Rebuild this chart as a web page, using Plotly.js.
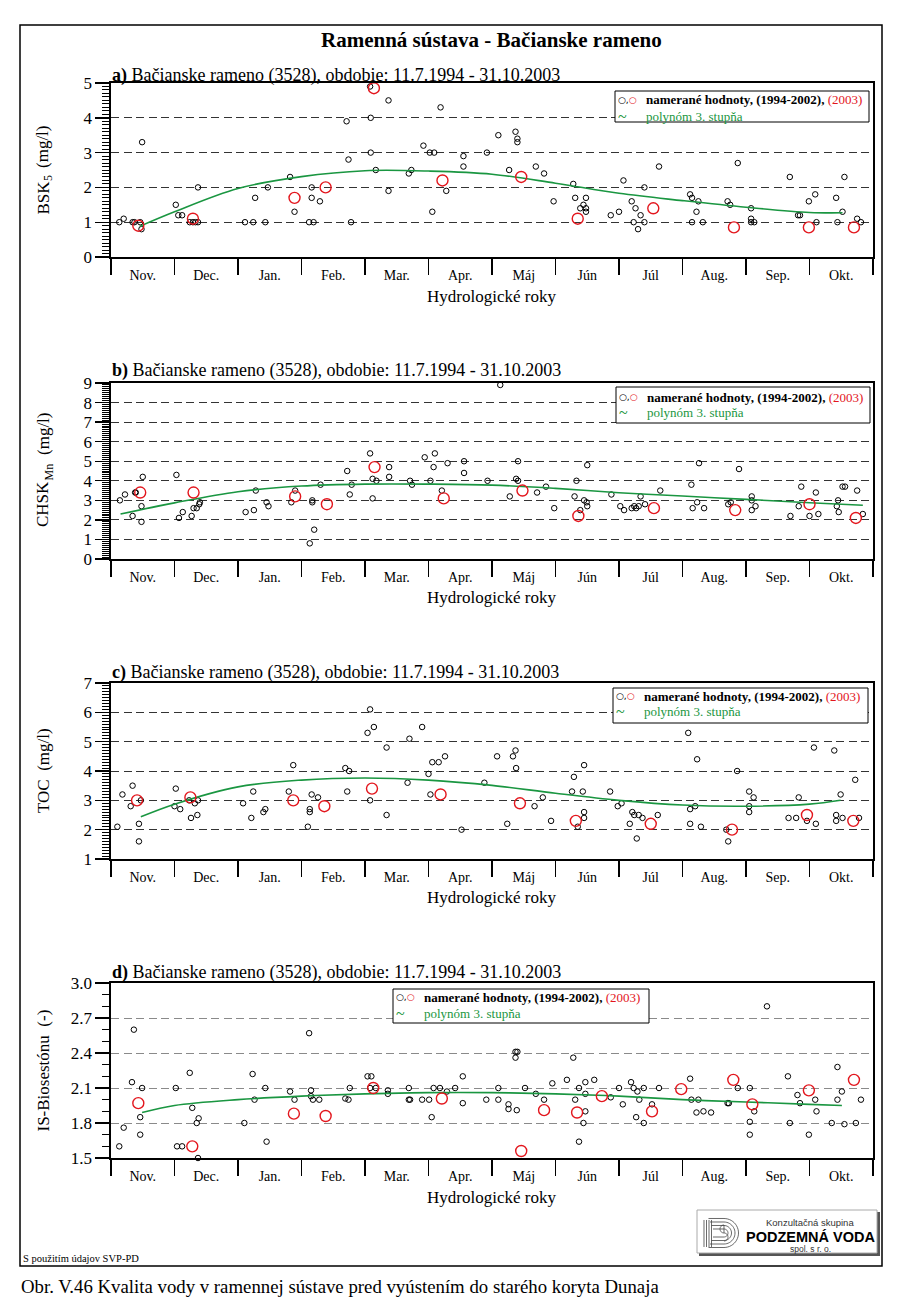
<!DOCTYPE html>
<html>
<head>
<meta charset="utf-8">
<script src="https://cdn.plot.ly/plotly-3.0.1.min.js"></script>
<style>
html,body{margin:0;padding:0;background:#fff;}
#chart{width:900px;height:1306px;}
</style>
</head>
<body>
<div id="chart"></div>
<script>
// ---------------- DATA ----------------
const monthLabels = ['Nov.','Dec.','Jan.','Feb.','Mar.','Apr.','Máj','Jún','Júl','Aug.','Sep.','Okt.'];
const monthCenters = [0.5,1.5,2.5,3.5,4.5,5.5,6.5,7.5,8.5,9.5,10.5,11.5];
const monthBounds = [0,1,2,3,4,5,6,7,8,9,10,11,12];

// a) BSK5 (mg/l)
const bskX = [0.13,0.2,0.34,0.37,0.46,0.48,0.49, 1.02,1.06,1.12,1.24,1.29,1.33,1.37,1.37,
  2.11,2.24,2.27,2.43,2.47,2.82,2.89, 3.12,3.16,3.16,3.19,3.29,3.71,3.74,3.78,
  4.08,4.09,4.09,4.17,4.37,4.37, 4.69,4.73,4.92,5.02,5.06,5.09,5.19,5.28,
  5.55,5.55,5.92,6.1,6.27,6.37,6.4,6.4,6.69,6.82,6.97,
  7.28,7.31,7.39,7.44,7.48,7.48,7.48, 7.87,8.0,8.07,8.2,8.23,8.26,8.3,8.34,8.4,8.4,8.63,
  9.12,9.15,9.15,9.22,9.25,9.32,9.71,9.75,9.87,
  10.08,10.08,10.08,10.13,10.69,10.82,10.85,10.99,11.09,11.11,
  11.42,11.44,11.52,11.55,11.75,11.81];
const bskY = [1.0,1.1,1.0,1.0,1.0,0.8,3.3, 1.5,1.2,1.2,1.0,1.0,1.0,1.0,2.0,
  1.0,1.0,1.7,1.0,2.0,2.3,1.3, 1.0,2.0,1.7,1.0,1.6,3.9,2.8,1.0,
  4.9,4.0,3.0,2.5,4.5,1.9, 2.4,2.5,3.2,3.0,1.3,3.0,4.3,1.9,
  2.9,2.6,3.0,3.5,2.5,3.6,3.4,3.3,2.6,2.4,1.6,
  2.1,1.7,1.4,1.5,1.7,1.4,1.3, 1.2,1.3,2.2,1.6,1.0,1.4,0.8,1.2,1.0,2.0,2.6,
  1.8,1.7,1.0,1.3,1.6,1.0,1.6,1.5,2.7,
  1.4,1.1,1.0,1.0,2.3,1.2,1.2,1.6,1.8,1.0,
  1.7,1.0,1.3,2.3,1.1,1.0];
const bsk2003X = [0.43,1.29,2.89,3.38,4.14,5.22,6.46,7.35,8.54,9.81,10.99,11.7];
const bsk2003Y = [0.9,1.1,1.7,2.0,4.85,2.2,2.3,1.1,1.4,0.85,0.85,0.85];
const bskFitX = [0.45,1,2,3,4,5,6,7,8,9,10,11,11.52];
const bskFitY = [0.88,1.3,1.97,2.31,2.48,2.47,2.38,2.12,1.83,1.62,1.43,1.28,1.27];

// b) CHSK_Mn (mg/l)
const chskX = [0.14,0.22,0.38,0.39,0.5,0.34,0.48,0.48,
  1.03,1.07,1.13,1.27,1.3,1.35,1.39,1.4,
  2.12,2.25,2.28,2.45,2.48,2.84,2.9,
  3.13,3.2,3.17,3.17,3.3,3.72,3.76,3.79,
  4.08,4.12,4.18,4.12,4.38,4.38,4.71,4.74,
  4.94,5.03,5.1,5.08,5.21,5.3,
  5.56,5.56,6.13,5.93,6.28,6.41,6.38,6.41,6.71,6.85,6.98,
  7.33,7.3,7.5,7.45,7.49,7.5,7.39,
  7.88,8.02,8.08,8.2,8.24,8.27,8.31,8.34,8.41,8.65,
  9.14,9.26,9.23,9.16,9.34,9.72,9.76,9.89,
  10.09,10.09,10.15,10.09,10.7,10.83,10.87,11.0,11.1,11.14,
  11.43,11.45,11.46,11.52,11.56,11.75,11.84];
const chskY = [3.0,3.3,3.4,3.4,4.2,2.2,2.7,1.9,
  4.3,2.1,2.4,2.2,2.6,2.6,2.8,2.9,
  2.4,2.5,3.5,2.9,2.7,2.9,3.5,
  0.8,1.5,3.0,2.9,3.8,4.5,3.3,3.8,
  5.4,4.1,4.0,3.1,4.7,4.2,4.0,3.8,
  5.2,4.0,5.4,4.7,3.5,4.9,
  5.0,4.4,8.9,4.0,3.2,5.0,4.1,4.0,3.4,3.7,2.6,
  4.0,3.2,4.8,3.0,2.9,2.7,2.5,
  3.3,2.7,2.5,2.6,2.7,2.6,2.7,3.2,2.8,3.5,
  3.8,4.9,2.9,2.6,2.6,2.8,2.9,4.6,
  3.2,3.0,2.7,2.5,2.2,2.7,3.7,2.2,3.4,2.3,
  2.7,3.0,2.4,3.7,3.7,3.5,2.3];
const chsk2003X = [0.46,1.3,2.9,3.4,4.15,5.24,6.48,7.36,8.55,9.83,11.0,11.73];
const chsk2003Y = [3.4,3.4,3.2,2.8,4.7,3.1,3.5,2.2,2.6,2.5,2.8,2.1];
const chskFitX = [0.15,1,2,3,4,5,6,7,8,9,10,11,11.84];
const chskFitY = [2.3,2.87,3.44,3.73,3.83,3.83,3.78,3.61,3.39,3.22,3.05,2.88,2.75];

// c) TOC (mg/l)
const tocX = [0.1,0.18,0.31,0.34,0.47,0.44,0.44,
  1.02,1.0,1.09,1.23,1.26,1.32,1.36,1.37,
  2.08,2.21,2.24,2.4,2.43,2.8,2.87,
  3.1,3.13,3.13,3.16,3.26,3.69,3.75,3.72,
  4.04,4.08,4.14,4.08,4.34,4.34,4.67,4.7,4.9,
  5.0,5.03,5.06,5.16,5.26,
  5.52,5.88,6.08,6.33,6.37,6.38,6.24,6.67,6.8,6.93,
  7.29,7.45,7.26,7.43,7.45,7.45,7.35,
  7.86,7.98,8.04,8.21,8.24,8.31,8.37,8.17,8.28,8.61,
  9.09,9.23,9.12,9.2,9.12,9.29,9.69,9.72,9.86,
  10.05,10.12,10.05,10.05,10.67,10.79,10.83,10.96,11.07,11.1,
  11.39,11.42,11.42,11.52,11.49,11.72,11.78];
const tocY = [2.1,3.2,2.8,3.5,3.0,2.2,1.6,
  3.4,2.8,2.7,3.0,2.4,2.9,2.5,3.0,
  2.9,2.4,3.3,2.6,2.7,3.3,4.2,
  2.1,2.7,2.6,3.2,3.1,4.1,4.0,3.3,
  5.3,6.1,5.5,3.0,4.8,2.5,3.6,5.1,5.5,
  3.9,3.2,4.3,4.3,4.5,
  2.0,3.6,4.5,4.5,4.7,4.1,2.2,2.8,3.1,2.3,
  3.8,4.2,3.3,3.3,2.6,2.4,2.1,
  3.3,2.8,2.9,2.6,2.5,2.5,2.4,2.2,1.7,2.5,
  5.3,4.4,2.7,2.8,2.2,2.1,2.0,1.6,4.0,
  3.3,3.1,2.8,2.6,2.4,2.4,3.1,2.3,4.8,2.2,
  4.7,2.5,2.3,2.4,3.2,3.7,2.4];
const toc2003X = [0.41,1.25,2.87,3.36,4.11,5.19,6.44,7.32,8.5,9.78,10.96,11.69];
const toc2003Y = [3.0,3.1,3.0,2.8,3.4,3.2,2.9,2.3,2.2,2.0,2.5,2.3];
const tocFitX = [0.47,1,2,3,4,5,6,7,8,9,10,11,11.49];
const tocFitY = [2.44,2.87,3.46,3.69,3.76,3.69,3.51,3.24,3.0,2.84,2.8,2.87,3.0];

// d) IS-Biosestónu (-)
const isX = [0.13,0.2,0.33,0.36,0.49,0.46,0.46,
  1.02,1.04,1.12,1.24,1.28,1.35,1.38,1.37,
  2.1,2.23,2.26,2.43,2.45,2.82,2.89,
  3.12,3.15,3.15,3.18,3.28,3.69,3.74,3.76,
  4.04,4.1,4.08,4.17,4.36,4.36,4.69,4.69,4.71,
  4.9,5.01,5.05,5.08,5.18,5.29,
  5.42,5.54,5.54,5.91,6.1,6.1,6.26,6.26,6.39,6.37,6.37,6.4,6.52,6.69,6.82,6.95,
  7.18,7.28,7.31,7.37,7.37,7.47,7.61,7.47,7.47,7.44,
  7.87,8.0,8.06,8.19,8.23,8.29,8.39,8.32,8.27,8.39,8.63,8.52,
  9.12,9.14,9.25,9.22,9.33,9.45,9.71,9.73,9.87,
  10.06,10.13,10.06,10.06,10.33,10.66,10.69,10.81,10.85,
  11.09,11.11,10.99,11.44,11.51,11.44,11.35,11.55,11.73,11.81];
const isY = [1.6,1.76,2.15,2.6,2.1,1.85,1.7,
  2.1,1.6,1.6,2.23,1.93,1.8,1.84,1.5,
  1.8,2.22,2.0,2.1,1.64,2.07,2.0,
  2.57,2.08,2.03,2.0,2.0,2.01,2.0,2.1,
  2.2,2.2,2.1,2.1,2.08,2.05,2.1,2.0,2.0,
  2.0,2.0,1.85,2.1,2.1,2.07,
  2.1,2.2,1.97,2.0,2.0,2.1,1.96,1.92,1.91,2.41,2.36,2.41,2.1,2.05,2.0,2.14,
  2.17,2.36,2.0,2.1,1.64,2.15,2.17,2.05,1.9,1.8,
  2.02,2.1,1.96,2.15,2.1,2.07,2.1,2.0,1.85,1.8,2.1,1.96,
  2.18,2.0,2.0,1.89,1.9,1.89,1.97,1.97,2.1,
  2.1,1.9,1.81,1.7,2.8,2.2,1.8,2.04,1.97,
  2.0,1.9,1.7,2.28,2.07,2.0,1.8,1.79,1.8,2.0];
const is2003X = [0.43,1.28,2.88,3.38,4.13,5.21,6.46,6.82,7.34,7.73,8.52,8.98,9.8,10.1,10.99,11.7];
const is2003Y = [1.97,1.6,1.88,1.86,2.1,2.01,1.56,1.91,1.89,2.03,1.9,2.09,2.17,1.96,2.08,2.17];
const isFitX = [0.49,1,2,3,4,5,6,7,8,9,10,11,11.51];
const isFitY = [1.89,1.95,2.0,2.03,2.05,2.06,2.06,2.05,2.03,2.0,1.98,1.96,1.95];

// y ticks
const yTicksA = [0,1,2,3,4,5];
const yTicksB = [0,1,2,3,4,5,6,7,8,9];
const yTicksC = [1,2,3,4,5,6,7];
const yTicksD = [1.5,1.8,2.1,2.4,2.7,3.0];

// texts
const mainTitle = 'Ramenná sústava - Bačianske rameno';
const panelTitles = [
  '<b>a)</b> Bačianske rameno (3528), obdobie: 11.7.1994 - 31.10.2003',
  '<b>b)</b> Bačianske rameno (3528), obdobie: 11.7.1994 - 31.10.2003',
  '<b>c)</b> Bačianske rameno (3528), obdobie: 11.7.1994 - 31.10.2003',
  '<b>d)</b> Bačianske rameno (3528), obdobie: 11.7.1994 - 31.10.2003'
];
// y titles: main part, subscript part, unit part
const yTitleMain = ['BSK', 'CHSK', 'TOC', 'IS-Biosestónu'];
const yTitleSub  = ['5', 'Mn', '', ''];
const yTitleUnit = ['(mg/l)', '(mg/l)', '(mg/l)', '(-)'];
const xTitle = 'Hydrologické roky';
const legendLine1 = '<b>namerané hodnoty, (1994-2002),\u00a0</b><span style="color:#e3161d">(2003)</span>';
const legendLine2 = 'polynóm 3. stupňa';
const sourceNote = 'S použitím údajov SVP-PD';
const caption = 'Obr. V.46 Kvalita vody v ramennej sústave pred vyústením do starého koryta Dunaja';

// ---------------- LAYOUT HELPERS ----------------
const W = 900, H = 1306;
const X = v => v / W;
const Y = v => 1 - v / H;
const SERIF = 'Liberation Serif, Times New Roman, serif';
const SANS = 'Liberation Sans, Arial, sans-serif';
const GREEN = '#1a9641';
const RED = '#e3161d';
const PLOT_L = 111, PLOT_R = 873;

// y-title piece centres (screen y) for panels: [main, sub, unit]
const panels = [
  {top:83,  bottom:257,  range:[0,5],   ticks:yTicksA, tick0:0,   fmt:'',    x:bskX,  y:bskY,  x3:bsk2003X,  y3:bsk2003Y,  fx:bskFitX,  fy:bskFitY,  grid:'#333', titleY:76,  xTitleY:296, yt:[197.5,178,147], legend:{x0:615,x1:869,y0:91,y1:122,l1:100,l2:116,sx:617,tx:645}},
  {top:383, bottom:559,  range:[0,9],   ticks:yTicksB, tick0:0,   fmt:'',    x:chskX, y:chskY, x3:chsk2003X, y3:chsk2003Y, fx:chskFitX, fy:chskFitY, grid:'#333', titleY:371, xTitleY:597, yt:[504,472.5,434], legend:{x0:616,x1:870,y0:387,y1:423,l1:397,l2:413,sx:618,tx:646}},
  {top:683, bottom:859,  range:[1,7],   ticks:yTicksC, tick0:1,   fmt:'',    x:tocX,  y:tocY,  x3:toc2003X,  y3:toc2003Y,  fx:tocFitX,  fy:tocFitY,  grid:'#333', titleY:672, xTitleY:897, yt:null, legend:{x0:613,x1:868,y0:688,y1:723,l1:696,l2:712,sx:615,tx:643}},
  {top:983, bottom:1158, range:[1.5,3], ticks:yTicksD, tick0:1.5, fmt:'.1f', x:isX,   y:isY,   x3:is2003X,   y3:is2003Y,   fx:isFitX,   fy:isFitY,   grid:'#8a8a8a', titleY:972, xTitleY:1197, yt:null, legend:{x0:393,x1:649,y0:989,y1:1023,l1:997,l2:1013,sx:395,tx:423}}
];

const data = [];
const layout = {
  width: W, height: H,
  margin: {l:0, r:0, t:0, b:0, pad:0},
  paper_bgcolor: '#ffffff', plot_bgcolor: '#ffffff',
  showlegend: false,
  font: {family: SERIF, color: '#000'},
  annotations: [], shapes: []
};

function txt(text, x, y, o) {
  return Object.assign({
    text: text, x: X(x), y: Y(y), xref: 'paper', yref: 'paper',
    showarrow: false, xanchor: 'left', yanchor: 'middle', borderpad: 0,
    font: {family: SERIF, size: 17, color: '#000'}
  }, o || {});
}

panels.forEach((p, i) => {
  const s = i === 0 ? '' : String(i + 1);
  const xa = 'x' + s, ya = 'y' + s;
  data.push({type:'scatter', mode:'markers', x:p.x, y:p.y, xaxis:xa, yaxis:ya,
    marker:{symbol:'circle-open', size:5.5, color:'#000', line:{width:1, color:'#000'}}, hoverinfo:'skip', cliponaxis:false});
  data.push({type:'scatter', mode:'lines', x:p.fx, y:p.fy, xaxis:xa, yaxis:ya,
    line:{color:GREEN, width:1.6, shape:'spline', smoothing:1}, hoverinfo:'skip'});
  data.push({type:'scatter', mode:'markers', x:p.x3, y:p.y3, xaxis:xa, yaxis:ya,
    marker:{symbol:'circle-open', size:11, color:RED, line:{width:1.4, color:RED}}, hoverinfo:'skip', cliponaxis:false});

  layout['xaxis' + s] = {
    domain: [X(PLOT_L), X(PLOT_R)], range: [0, 12], anchor: ya,
    tickmode: 'array', tickvals: monthCenters, ticktext: monthLabels,
    ticks: '', showline: true, mirror: true, linecolor: '#000', linewidth: 1.7,
    showgrid: false, zeroline: false, fixedrange: true,
    tickfont: {family: SERIF, size: 14, color: '#000'},
    ticklabelstandoff: 4,
    minor: {tickmode: 'array', tickvals: monthBounds, ticks: 'outside', ticklen: 16, tickwidth: 1.4, tickcolor: '#000', showgrid: false}
  };
  layout['yaxis' + s] = {
    domain: [Y(p.bottom), Y(p.top)], range: p.range, anchor: xa,
    tickmode: 'array', tickvals: p.ticks, tickformat: p.fmt,
    ticks: 'outside', ticklen: 14, tickwidth: 1.4, tickcolor: '#000',
    showline: true, mirror: true, linecolor: '#000', linewidth: 1.7,
    showgrid: true, gridcolor: p.grid, gridwidth: 1, griddash: '8px,4.5px',
    zeroline: false, fixedrange: true,
    tickfont: {family: SERIF, size: 17, color: '#000'},
    minor: {tickmode: 'linear', tick0: p.tick0, dtick: 0.1, ticks: 'outside', ticklen: 7, tickwidth: 1, tickcolor: '#000', showgrid: false}
  };

  // panel title
  layout.annotations.push(txt(panelTitles[i], PLOT_L, p.titleY, {font:{family:SERIF, size:18, color:'#000'}}));
  // y title (rotated); subscript drawn as its own smaller, shifted text
  const rot = {xanchor:'center', textangle:-90};
  if (p.yt) {
    layout.annotations.push(txt(yTitleMain[i], 43, p.yt[0], Object.assign({font:{family:SERIF, size:17, color:'#000'}}, rot)));
    layout.annotations.push(txt(yTitleSub[i], 48, p.yt[1], Object.assign({font:{family:SERIF, size:12, color:'#000'}}, rot)));
    layout.annotations.push(txt(yTitleUnit[i], 43, p.yt[2], Object.assign({font:{family:SERIF, size:17, color:'#000'}}, rot)));
  } else {
    layout.annotations.push(txt(yTitleMain[i] + '\u00a0 ' + yTitleUnit[i], 43, (p.top + p.bottom) / 2, Object.assign({font:{family:SERIF, size:17, color:'#000'}}, rot)));
  }
  // x title
  layout.annotations.push(txt(xTitle, (PLOT_L + PLOT_R) / 2, p.xTitleY, {xanchor:'center', font:{family:SERIF, size:17, color:'#000'}}));

  // legend box
  const L = p.legend;
  layout.shapes.push({type:'rect', xref:'paper', yref:'paper', x0:X(L.x0), x1:X(L.x1), y0:Y(L.y1), y1:Y(L.y0),
    line:{color:'#000', width:1}, fillcolor:'#ffffff', layer:'above'});
  layout.annotations.push(txt('<span style="color:#000">○</span>,<span style="color:' + RED + '">○</span>', L.sx, L.l1, {font:{family:'DejaVu Sans', size:9, color:'#000'}}));
  layout.annotations.push(txt(legendLine1, L.tx, L.l1, {font:{family:SERIF, size:13, color:'#000'}}));
  layout.annotations.push(txt('~', L.sx, L.l2, {font:{family:SERIF, size:16, color:GREEN}}));
  layout.annotations.push(txt(legendLine2, L.tx, L.l2, {font:{family:SERIF, size:13, color:GREEN}}));
});

// main title
layout.annotations.push(txt('<b>' + mainTitle + '</b>', (PLOT_L + PLOT_R) / 2, 40, {xanchor:'center', font:{family:SERIF, size:21, color:'#000'}}));
// source note + caption
layout.annotations.push(txt(sourceNote, 22, 1258, {font:{family:SERIF, size:10.5, color:'#000'}}));
layout.annotations.push(txt(caption, 20, 1286, {font:{family:SERIF, size:18.8, color:'#000'}}));

// outer frame
layout.shapes.push({type:'rect', xref:'paper', yref:'paper', x0:X(20), x1:X(882), y0:Y(1266), y1:Y(25),
  line:{color:'#000', width:1.5}, fillcolor:'rgba(0,0,0,0)', layer:'above'});

// logo box with shadow
layout.shapes.push({type:'rect', xref:'paper', yref:'paper', x0:X(699), x1:X(880), y0:Y(1256), y1:Y(1212),
  line:{width:0}, fillcolor:'#555', layer:'above'});
layout.shapes.push({type:'rect', xref:'paper', yref:'paper', x0:X(697), x1:X(877), y0:Y(1253), y1:Y(1210),
  line:{color:'#aaa', width:1}, fillcolor:'#ffffff', layer:'above'});

// logo icon (decorative)
function pathOf(pts) { return 'M' + pts.map(q => X(q[0]).toFixed(5) + ',' + Y(q[1]).toFixed(5)).join(' L'); }
function arcPts(cx, cy, r, a0, a1) {
  const out = [];
  for (let k = 0; k <= 24; k++) {
    const a = (a0 + (a1 - a0) * k / 24) * Math.PI / 180;
    out.push([cx + r * Math.cos(a), cy + r * Math.sin(a)]);
  }
  return out;
}
const icoC = [724, 1233];
[4, 7.5, 11, 14.5].forEach((r, k) => {
  const pts = [[713 - k * 1.5, icoC[1] - r]].concat(arcPts(icoC[0], icoC[1], r, -90, 90)).concat([[713 - k * 1.5, icoC[1] + r]]);
  layout.shapes.push({type:'path', xref:'paper', yref:'paper', path:pathOf(pts), line:{color:'#444', width:0.8}, layer:'above'});
});
[704, 706.5, 709, 711.5].forEach(xv => {
  layout.shapes.push({type:'path', xref:'paper', yref:'paper', path:pathOf([[xv, 1220], [xv, 1247]]), line:{color:'#444', width:0.8}, layer:'above'});
});
layout.shapes.push({type:'path', xref:'paper', yref:'paper', path:pathOf(arcPts(724, 1229, 4, 90, 270).concat(arcPts(724, 1237, 4, -90, 90))), line:{color:'#444', width:0.8}, layer:'above'});

layout.annotations.push(txt('Konzultačná skupina', 810, 1222, {xanchor:'center', font:{family:SANS, size:9.5, color:'#333'}}));
layout.annotations.push(txt('<b>PODZEMNÁ VODA</b>', 810, 1236.5, {xanchor:'center', font:{family:SANS, size:14.5, color:'#000'}}));
layout.annotations.push(txt('spol. s r. o.', 810, 1249, {xanchor:'center', font:{family:SANS, size:8.5, color:'#333'}}));

Plotly.newPlot('chart', data, layout, {staticPlot: true, displayModeBar: false});
</script>
</body>
</html>
